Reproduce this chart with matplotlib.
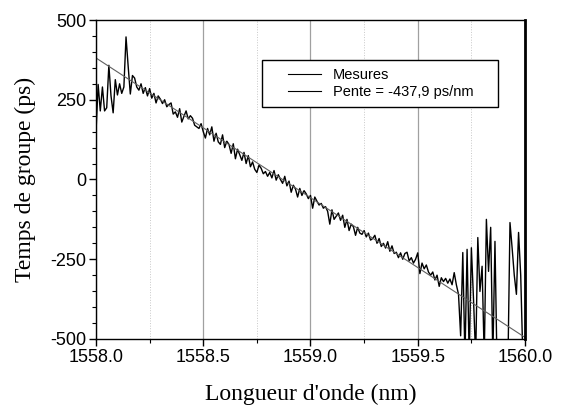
import matplotlib
matplotlib.use("Agg")
import matplotlib.pyplot as plt
import numpy as np
from matplotlib.legend_handler import HandlerLine2D
from matplotlib.ticker import MultipleLocator

# wavelength grid of the measurement (nm), one sample every 0.01 nm
wavelength = np.linspace(1558.0, 1560.0, 201)

delay = [
    148, 298, 215, 290, 215, 225, 358, 262, 209, 313,
    265, 300, 270, 290, 447, 355, 268, 326, 318, 290,
    280, 300, 270, 288, 262, 285, 255, 270, 240, 262,
    252, 238, 250, 228, 235, 240, 205, 212, 195, 222,
    180, 198, 215, 190, 200, 192, 170, 165, 160, 175,
    150, 130, 160, 140, 165, 120, 145, 118, 110, 140,
    100, 120, 110, 82, 112, 65, 95, 78, 60, 85,
    50, 75, 40, 55, 32, 22, 45, 35, 18, 25,
    10, 22, 5, 28, -2, 15, 0, -12, 10, -20,
    -5, -40, -18, -30, -55, -28, -50, -35, -45, -60,
    -50, -90, -55, -68, -80, -75, -90, -85, -100, -140,
    -95, -125, -115, -105, -128, -112, -150, -125, -160, -140,
    -148, -175, -150, -168, -172, -160, -180, -168, -190, -185,
    -175, -200, -185, -210, -200, -215, -195, -225, -208, -232,
    -228, -245, -230, -250, -232, -228, -255, -245, -262, -250,
    -230, -295, -262, -280, -268, -290, -300, -290, -315, -300,
    -335, -308, -320, -310, -325, -312, -330, -292, -330, -360,
    -490, -229, -560, -219, -560, -214, -376, -560, -182, -351,
    -272, -560, -125, -288, -150, -560, -194, -600, -700, -700,
    -700, -700, -600, -135, -215, -300, -360, -166, -300, -560,
    -700,
]

# linear fit, end points
fit_x = [1558.0, 1560.0]
fit_y = [381, -495]

fig = plt.figure(figsize=(5.63, 4.05), dpi=100)
ax = fig.add_axes([0.1705, 0.163, 0.762, 0.7876])

ax.plot(wavelength, delay, color="black", lw=1.0, label="Mesures")
ax.plot(fit_x, fit_y, color="#606060", lw=0.8, label="Pente = -437,9 ps/nm")

ax.set_xlim(1558.0, 1560.0)
ax.set_ylim(-500, 500)
ax.xaxis.set_minor_locator(MultipleLocator(0.25))
ax.yaxis.set_minor_locator(MultipleLocator(50))
ax.set_xticks([1558.0, 1558.5, 1559.0, 1559.5, 1560.0])
ax.set_xticklabels(["1558.0", "1558.5", "1559.0", "1559.5", "1560.0"])
ax.set_yticks([-500, -250, 0, 250, 500])
ax.set_yticklabels(["-500", "-250", "0", "250", "500"])

ax.grid(which="major", axis="x", color="#a0a0a0", lw=0.9, ls="-")
ax.grid(which="minor", axis="x", color="#c8c8c8", lw=0.7, ls=":")
ax.set_axisbelow(True)

ax.tick_params(which="major", direction="out", length=5, width=1,
               labelsize=13, labelfontfamily="Liberation Sans", pad=2)
ax.tick_params(which="minor", direction="out", length=3, width=0.8)
for s in ["left", "bottom", "top"]:
    ax.spines[s].set_linewidth(1.0)
ax.spines["right"].set_linewidth(2.0)

ax.set_xlabel("Longueur d'onde (nm)", family="Liberation Serif", fontsize=17, labelpad=13)
ax.set_ylabel("Temps de groupe (ps)", family="Liberation Serif", fontsize=17, labelpad=10)

leg = ax.legend(loc="upper left", bbox_to_anchor=(0.387, 0.0, 0.55, 0.875),
                mode="expand", borderaxespad=0, fancybox=False,
                edgecolor="black", framealpha=1, borderpad=0.55, labelspacing=0.2,
                handlelength=3.5, handletextpad=0.8,
                prop={"family": "Liberation Sans", "size": 10.5},
                handler_map={matplotlib.lines.Line2D: HandlerLine2D(xpad=1.2)})
leg.get_frame().set_linewidth(1.0)
for line in leg.get_lines():
    line.set_color("black")
    line.set_linewidth(0.8)

fig.savefig("out.png", dpi=100)
